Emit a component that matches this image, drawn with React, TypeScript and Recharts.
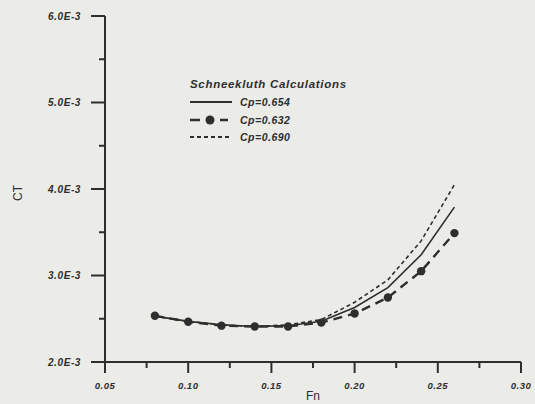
import { Line, LineChart, XAxis, YAxis } from "recharts";

// Froude number stations
const fn = [0.08, 0.1, 0.12, 0.14, 0.16, 0.18, 0.2, 0.22, 0.24, 0.26];
// CT values (x1e-3)
const ct654 = [2.53, 2.47, 2.43, 2.41, 2.42, 2.47, 2.63, 2.86, 3.24, 3.79];
const ct632 = [2.535, 2.465, 2.42, 2.41, 2.41, 2.455, 2.56, 2.745, 3.05, 3.49];
const ct690 = [2.53, 2.47, 2.43, 2.41, 2.43, 2.49, 2.69, 2.95, 3.4, 4.05];

const xTicks = [0.05, 0.075, 0.1, 0.125, 0.15, 0.175, 0.2, 0.225, 0.25, 0.275, 0.3];
const yTicks = [2.0, 2.5, 3.0, 3.5, 4.0, 4.5, 5.0, 5.5, 6.0];

const ink = "#2e2e2e";
const font = "'Liberation Sans', Arial, sans-serif";

const data = fn.map((f, i) => ({
  fn: f,
  a: ct654[i] / 1000,
  b: ct632[i] / 1000,
  c: ct690[i] / 1000,
}));

function XTick({ x, y, payload }: any) {
  const v = payload.value as number;
  const major = Math.round(v * 1000) % 50 === 0;
  return (
    <g>
      <line x1={x} x2={x} y1={y} y2={y + (major ? 11 : 6)} stroke={ink} strokeWidth={2} />
      {major && (
        <text x={x} y={y + 27} textAnchor="middle" fill={ink} fontSize={9.5} fontWeight="bold" fontStyle="italic" fontFamily={font} letterSpacing={0.5}>
          {v.toFixed(2)}
        </text>
      )}
    </g>
  );
}

function YTick({ x, y, payload }: any) {
  const v = (payload.value as number) * 1000;
  const major = Math.round(v * 10) % 10 === 0;
  return (
    <g>
      <line x1={x} x2={x - (major ? 14 : 6)} y1={y} y2={y} stroke={ink} strokeWidth={2} />
      {major && (
        <text x={x - 24} y={y + 3.5} textAnchor="end" fill={ink} fontSize={10} fontWeight="bold" fontStyle="italic" fontFamily={font} letterSpacing={0.6}>
          {v.toFixed(1)}E-3
        </text>
      )}
    </g>
  );
}

// legend drawn as an overlay so it doesn't push the plot area around
function LegendBox() {
  const txt = { fill: ink, fontSize: 10.5, fontWeight: "bold" as const, fontStyle: "italic" as const, fontFamily: font, letterSpacing: 0.5 };
  return (
    <svg width={190} height={75} style={{ position: "absolute", left: 185, top: 74 }}>
      <text x={5} y={14} {...txt} fontSize={11.5} letterSpacing={0.7}>Schneekluth Calculations</text>
      <line x1={5} x2={47} y1={28} y2={28} stroke={ink} strokeWidth={1.8} />
      <text x={55} y={32} {...txt}>Cp=0.654</text>
      <line x1={5} x2={15} y1={46} y2={46} stroke={ink} strokeWidth={2.5} />
      <circle cx={25} cy={46} r={4.5} fill={ink} />
      <line x1={35} x2={43} y1={46} y2={46} stroke={ink} strokeWidth={2.5} />
      <text x={55} y={50} {...txt}>Cp=0.632</text>
      <line x1={5} x2={47} y1={63} y2={63} stroke={ink} strokeWidth={1.8} strokeDasharray="4 3" />
      <text x={55} y={67} {...txt}>Cp=0.690</text>
    </svg>
  );
}

export default function App() {
  return (
    <div style={{ position: "absolute", left: 0, top: 0, width: 535, height: 404, background: "#ebebe8" }}>
      <LineChart width={535} height={404} data={data} margin={{ top: 16, right: 14, bottom: 12, left: 25 }}>
        <XAxis
          dataKey="fn"
          type="number"
          domain={[0.05, 0.3]}
          ticks={xTicks}
          interval={0}
          height={30}
          tickSize={0}
          tickMargin={0}
          tickLine={false}
          tick={<XTick />}
          axisLine={{ stroke: ink, strokeWidth: 2 }}
          label={{ value: "Fn", position: "insideBottom", offset: -8, fill: ink, fontSize: 12, fontFamily: font }}
        />
        <YAxis
          type="number"
          domain={[0.002, 0.006]}
          ticks={yTicks.map((t) => t / 1000)}
          interval={0}
          width={80}
          tickSize={0}
          tickMargin={0}
          tickLine={false}
          tick={<YTick />}
          axisLine={{ stroke: ink, strokeWidth: 2 }}
          label={{
            content: () => (
              <text x={0} y={0} transform="translate(22 193) rotate(-90)" textAnchor="middle" fill={ink} fontSize={12} fontFamily={font}>
                CT
              </text>
            ),
          }}
        />
        <Line type="linear" dataKey="a" stroke={ink} strokeWidth={1.6} dot={false} isAnimationActive={false} />
        <Line
          type="linear"
          dataKey="b"
          stroke={ink}
          strokeWidth={2.4}
          strokeDasharray="9 6"
          dot={{ r: 4.2, fill: ink, stroke: "none" }}
          isAnimationActive={false}
        />
        <Line type="linear" dataKey="c" stroke={ink} strokeWidth={1.6} strokeDasharray="4 3" dot={false} isAnimationActive={false} />
      </LineChart>
      <LegendBox />
    </div>
  );
}
